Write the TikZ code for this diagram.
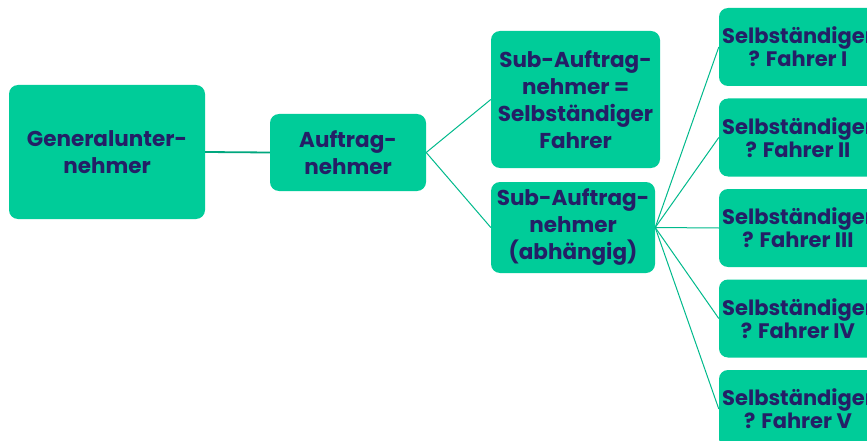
\documentclass[tikz,border=0pt]{standalone}
\usepackage{fontspec}
\setmainfont{Poppins}
\definecolor{boxgreen}{HTML}{00CC99}
\definecolor{linegreen}{HTML}{00BA8C}
\definecolor{txtnavy}{HTML}{241F66}
\begin{document}
\begin{tikzpicture}[x=1pt,y=-1pt,
  box/.style={rectangle, rounded corners=9pt, fill=boxgreen, draw=none, text=txtnavy,
    align=center, inner sep=0pt, font=\bfseries\fontsize{21.5}{27}\selectfont},
  rbox/.style={box, font=\bfseries\fontsize{21}{23}\selectfont},
  conn/.style={draw=linegreen, line width=1pt}]
\clip (0,0) rectangle (867,441);
\fill[white] (0,0) rectangle (867,441);
\node[box, minimum width=196pt, minimum height=134pt] (gen) at (107,152) {Generalunter-\\nehmer};
\node[box, minimum width=156pt, minimum height=77pt] (auf) at (348,152.5) {Auftrag-\\nehmer};
\node[box, minimum width=169pt, minimum height=137pt] (suba) at (575.5,99.5) {Sub-Auftrag-\\nehmer =\\Selbständiger\\Fahrer};
\node[box, minimum width=164pt, minimum height=91pt] (subb) at (573,227.5) {Sub-Auftrag-\\nehmer\\(abhängig)};
\node[rbox, minimum width=158pt, minimum height=78pt] (r1) at (798,47) {Selbständiger\\? Fahrer I};
\node[rbox, minimum width=158pt, minimum height=78pt] (r2) at (798,137.5) {Selbständiger\\? Fahrer II};
\node[rbox, minimum width=158pt, minimum height=78pt] (r3) at (798,228) {Selbständiger\\? Fahrer III};
\node[rbox, minimum width=158pt, minimum height=78pt] (r4) at (798,318.5) {Selbständiger\\? Fahrer IV};
\node[rbox, minimum width=158pt, minimum height=78pt] (r5) at (798,409) {Selbständiger\\? Fahrer V};
\draw[conn, line width=1.8pt, draw=linegreen!90!black] (gen.east) -- (auf.west);
\draw[conn] (auf.east) -- (suba.west);
\draw[conn] (auf.east) -- (subb.west);
\foreach \r in {r1,r2,r3,r4,r5} \draw[conn] (subb.east) -- (\r.west);
\end{tikzpicture}
\end{document}
